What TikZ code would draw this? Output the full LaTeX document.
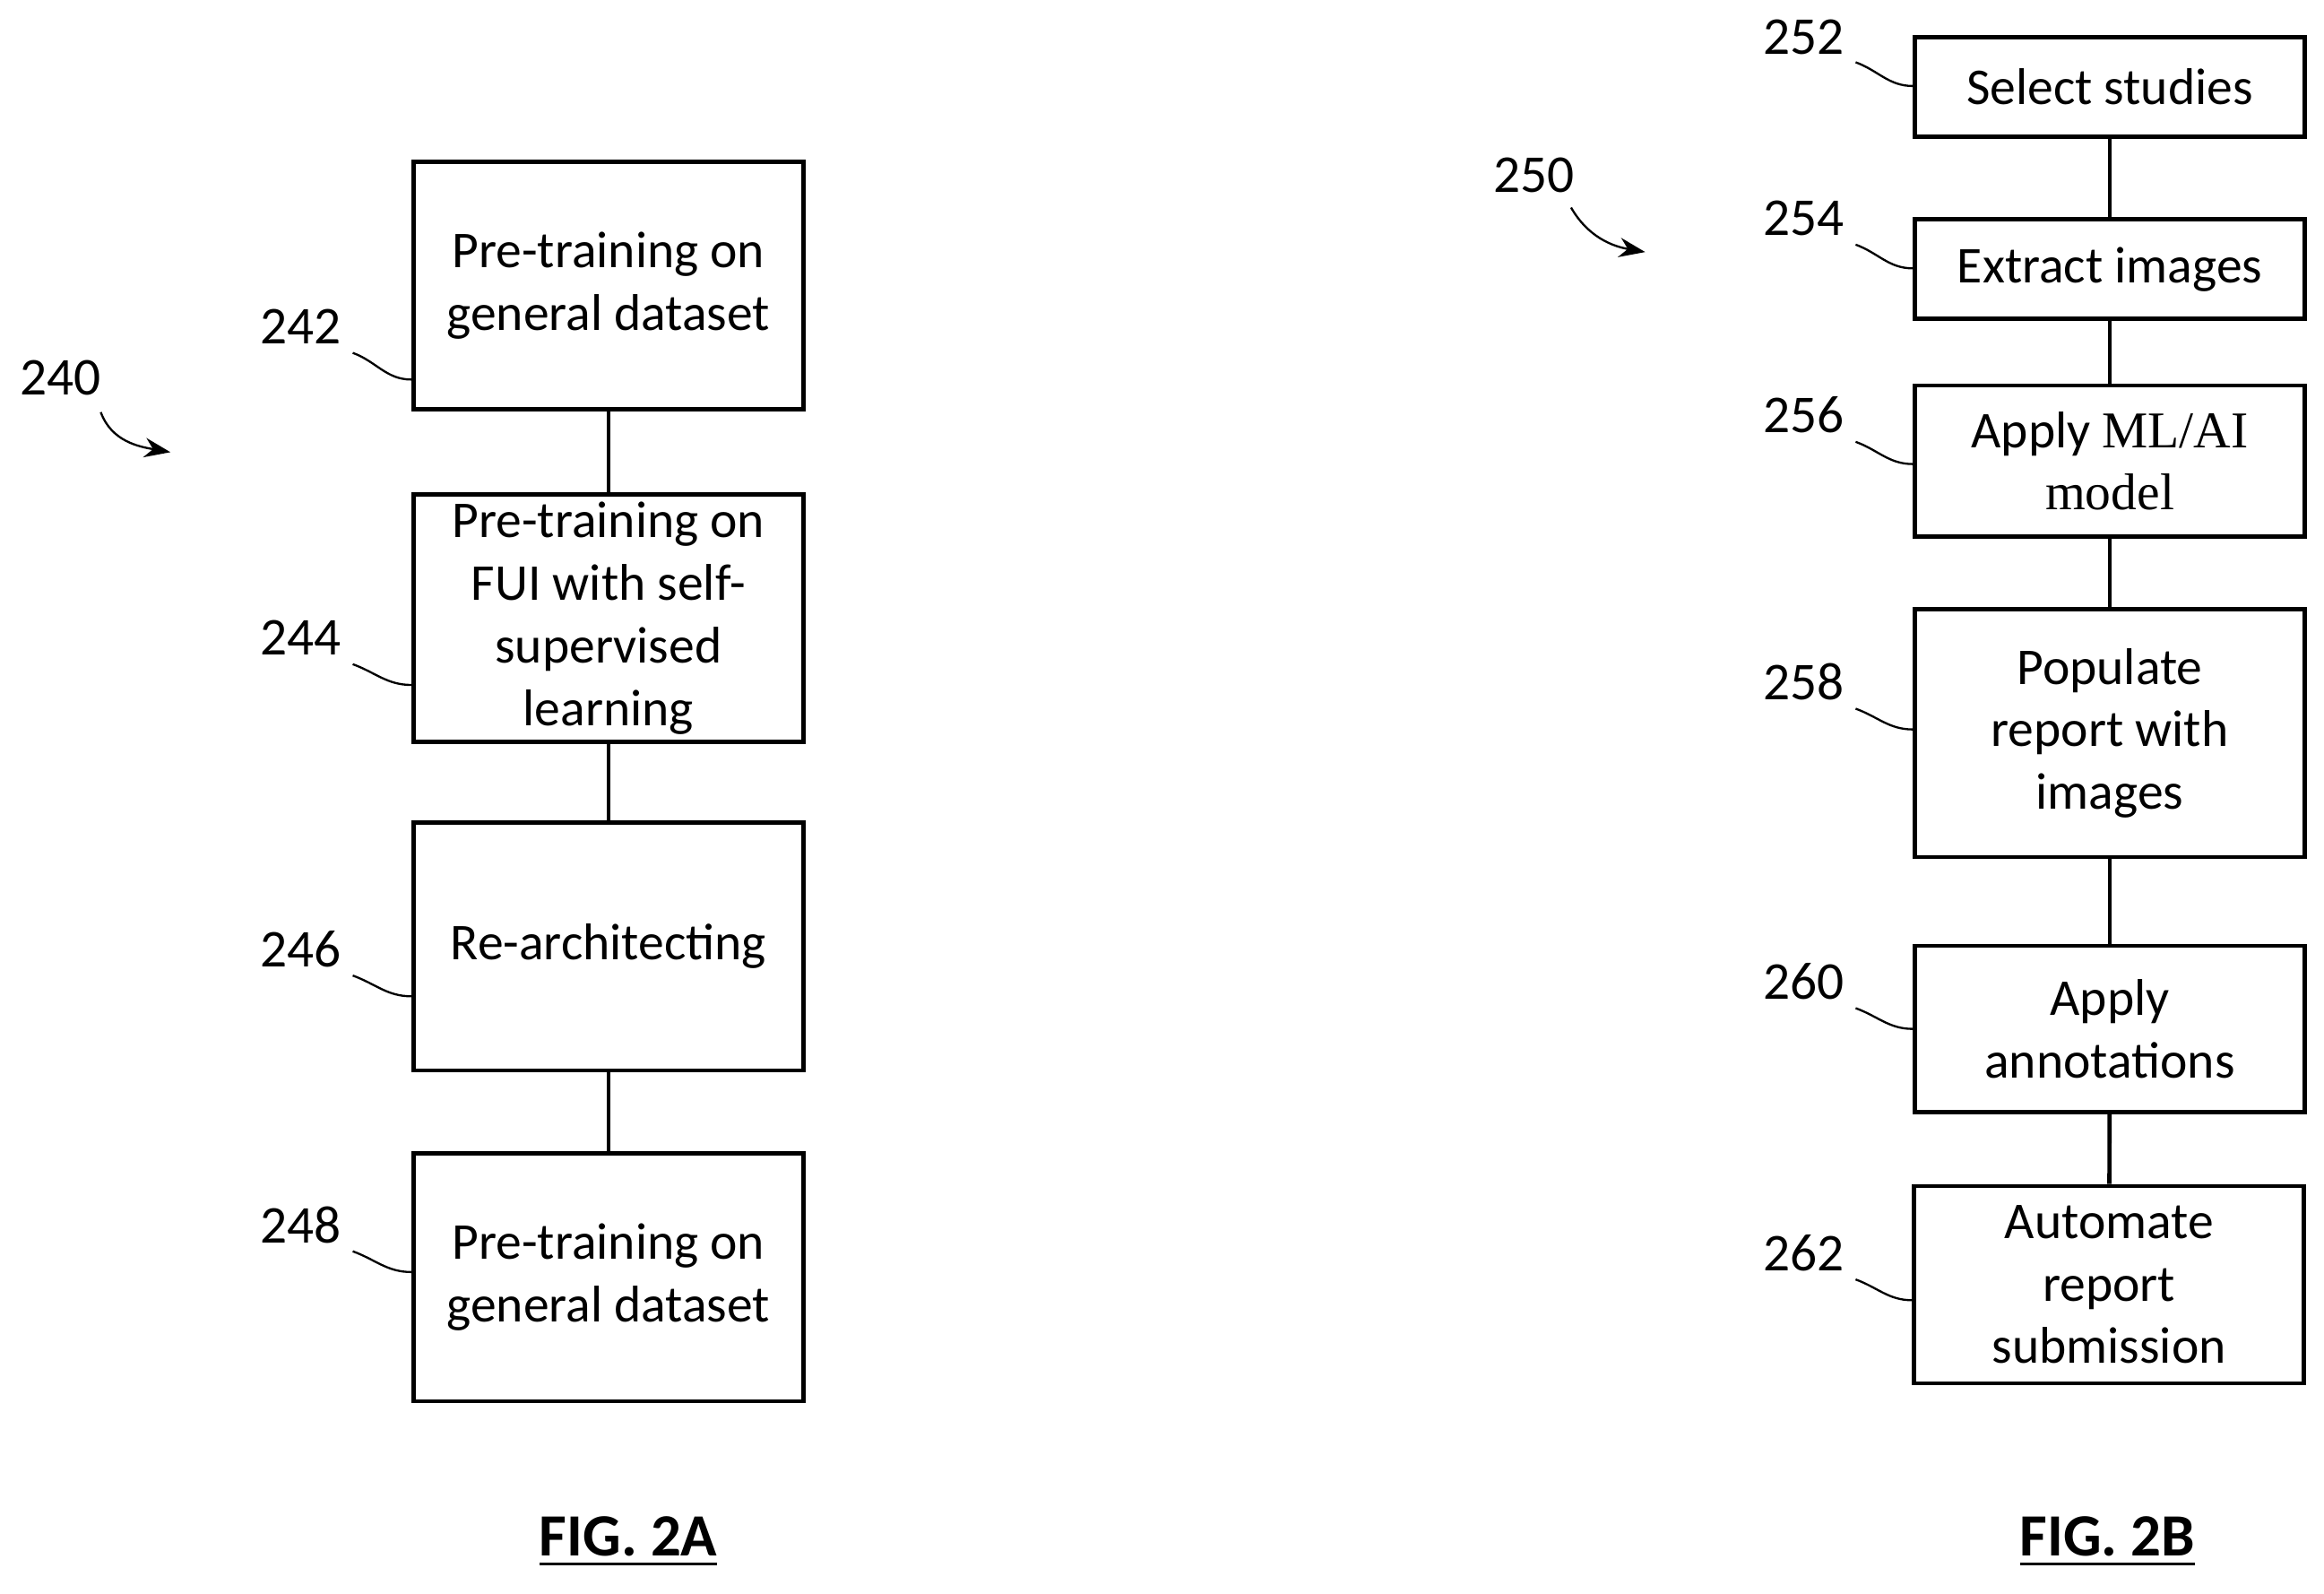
\documentclass[tikz,border=0pt]{standalone}
\usepackage{fontspec}
\setmainfont{Carlito}
\newfontfamily\serifml{Liberation Serif}
\usetikzlibrary{arrows.meta}

\tikzset{
 stage/.style={draw, thick, minimum width=2.63cm, align=center, inner sep=0pt, font=\fontsize{9.9}{12}\selectfont},
 ref/.style={font=\fontsize{10.2}{12}\selectfont, inner sep=0pt},
 leader/.style={thin},
 fig/.style={font=\bfseries\fontsize{11.5}{13}\selectfont, inner sep=0pt}
}

\begin{document}
\begin{tikzpicture}[x=0.01cm, y=-0.01cm]
 \useasboundingbox (0,0) rectangle (1568,1075);

 % FIG. 2A
 \node[stage, minimum height=1.67cm] (b242) at (410.5,192.5) {Pre-training on\\general dataset};
 \node[stage, minimum height=1.67cm] (b244) at (410.5,417) {Pre-training on\\FUI with self-\\supervised\\learning};
 \node[stage, minimum height=1.67cm] (b246) at (410.5,638.5) {Re-architecting};
 \node[stage, minimum height=1.67cm] (b248) at (410.5,861.5) {Pre-training on\\general dataset};
 \draw[thick] (b242) -- (b244);
 \draw[thick] (b244) -- (b246);
 \draw[thick] (b246) -- (b248);

 \node[ref] (l240) at (41,255) {240};
 \node[ref] (l242) at (203,220) {242};
 \node[ref] (l244) at (203,430) {244};
 \node[ref] (l246) at (203,640) {246};
 \node[ref] (l248) at (203,826) {248};
 \coordinate (a240) at (115,305);
 \draw[leader, -{Stealth[length=5pt]}] (68,278) to[out=-70,in=170] (a240);
 \draw[leader] (238,238) to[out=-20,in=180] (b242.west |- 0,256);
 \draw[leader] (238,448) to[out=-20,in=180] (b244.west |- 0,462);
 \draw[leader] (238,658) to[out=-20,in=180] (b246.west |- 0,672);
 \draw[leader] (238,844) to[out=-20,in=180] (b248.west |- 0,858);

 \node[fig] (f2a) at (424,1040) {\underline{FIG. 2A}};

 % FIG. 2B
 \node[stage, minimum height=0.67cm] (b252) at (1423.5,58.5) {Select studies};
 \node[stage, minimum height=0.67cm] (b254) at (1423.5,181.5) {Extract images};
 \node[stage, minimum height=1.02cm] (b256) at (1423.5,311) {Apply {\serifml ML/AI}\\{\serifml model}};
 \node[stage, minimum height=1.67cm] (b258) at (1423.5,494.5) {Populate\\report with\\images};
 \node[stage, minimum height=1.12cm] (b260) at (1423.5,694) {Apply\\annotations};
 \node[stage, minimum height=1.33cm] (b262) at (1423,866.5) {Automate\\report\\submission};
 \draw[thick] (b252) -- (b254);
 \draw[thick] (b254) -- (b256);
 \draw[thick] (b256) -- (b258);
 \draw[thick] (b258) -- (b260);
 \draw[thick] (b260) -- (b262);

 \node[ref] (l250) at (1035,118) {250};
 \node[ref] (l252) at (1217,25) {252};
 \node[ref] (l254) at (1217,147) {254};
 \node[ref] (l256) at (1217,280) {256};
 \node[ref] (l258) at (1217,460) {258};
 \node[ref] (l260) at (1217,662) {260};
 \node[ref] (l262) at (1217,845) {262};
 \coordinate (a250) at (1110,170);
 \draw[leader, -{Stealth[length=5pt]}] (1060,140) to[out=-60,in=170] (a250);
 \draw[leader] (1252,42) to[out=-20,in=180] (b252.west |- 0,58);
 \draw[leader] (1252,165) to[out=-20,in=180] (b254.west |- 0,181);
 \draw[leader] (1252,298) to[out=-20,in=180] (b256.west |- 0,313);
 \draw[leader] (1252,478) to[out=-20,in=180] (b258.west |- 0,492);
 \draw[leader] (1252,680) to[out=-20,in=180] (b260.west |- 0,694);
 \draw[leader] (1252,863) to[out=-20,in=180] (b262.west |- 0,877);

 \node[fig] (f2b) at (1422,1040) {\underline{FIG. 2B}};
\end{tikzpicture}
\end{document}
